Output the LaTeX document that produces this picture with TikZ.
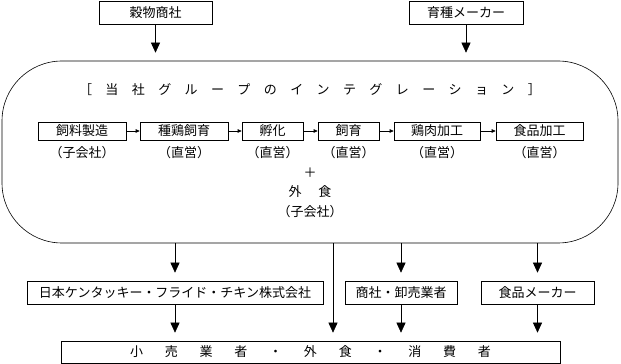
\documentclass[tikz,border=0pt]{standalone}
\usepackage{fontspec}
\setmainfont{Noto Sans CJK JP}
\usetikzlibrary{arrows.meta,positioning}
\makeatletter
\newcommand\spaced[2]{\@tfor\sp@ch:=#2\do{\sp@ch\hspace{#1}}\unskip}
\makeatother

\begin{document}
\begin{tikzpicture}[x=1pt,y=1pt,font=\fontsize{13}{15}\selectfont,line width=0.6pt,
  box/.style={draw,minimum height=23pt,inner sep=0pt},
  stage/.style={draw,minimum height=18pt,inner sep=0pt},
  flow/.style={-{Triangle[length=10pt,width=9pt]},shorten >=8pt},
  link/.style={-{Triangle[length=4pt,width=3.5pt]}},
  sub/.style={inner sep=0pt}]
\useasboundingbox (0,0) rectangle (621,364);
% suppliers
\node[box,minimum width=113pt] (grain) at (155.5,351.5) {穀物商社};
\node[box,minimum width=114pt] (breeder) at (466,351.5) {育種メーカー};
% group integration
\node[draw,rounded corners=60pt,minimum width=616pt,minimum height=182pt] (group) at (310,212) {};
\node (title) at (310,274) {\spaced{13.4pt}{［当社グループのインテグレーション］}};
\node[stage,minimum width=88pt] (feed) at (82,233) {飼料製造};
\node[stage,minimum width=88pt] (chick) at (184,233) {種鶏飼育};
\node[stage,minimum width=61pt] (hatch) at (272.5,233) {孵化};
\node[stage,minimum width=61pt] (rear) at (348.5,233) {飼育};
\node[stage,minimum width=86pt] (meat) at (437,233) {鶏肉加工};
\node[stage,minimum width=87pt] (proc) at (539.5,233) {食品加工};
\foreach \a/\b in {feed/chick,chick/hatch,hatch/rear,rear/meat,meat/proc}
  \draw[link] (\a) -- (\b);
\foreach \s/\t in {feed/子会社,chick/直営,hatch/直営,rear/直営,meat/直営,proc/直営}
  \node[sub,below=6pt of \s] (\s-sub) {（\t）};
\node (plus) at (310,191) {＋};
\node (dine) at (310,172) {\spaced{17pt}{外食}};
\node (dine-sub) at (310,152) {（子会社）};
% outlets
\node[box,minimum width=296pt] (kfc) at (175,71.5) {日本ケンタッキー・フライド・チキン株式会社};
\node[box,minimum width=112pt] (trade) at (401,71.5) {商社・卸売業者};
\node[box,minimum width=113pt] (maker) at (537.5,71.5) {食品メーカー};
\node[box,minimum width=499pt,minimum height=22pt] (retail) at (310.5,12) {\spaced{21.8pt}{小売業者・外食・消費者}};
% flows
\draw[flow] (grain) -- (grain |- group.north);
\draw[flow] (breeder) -- (breeder |- group.north);
\foreach \n in {kfc,trade,maker}{
  \draw[flow] (\n |- group.south) -- (\n);
  \draw[flow] (\n) -- (\n |- retail.north);
}
\draw[flow] ([xshift=23pt]group.south) -- ([xshift=23pt]group.south |- retail.north);
\end{tikzpicture}
\end{document}
